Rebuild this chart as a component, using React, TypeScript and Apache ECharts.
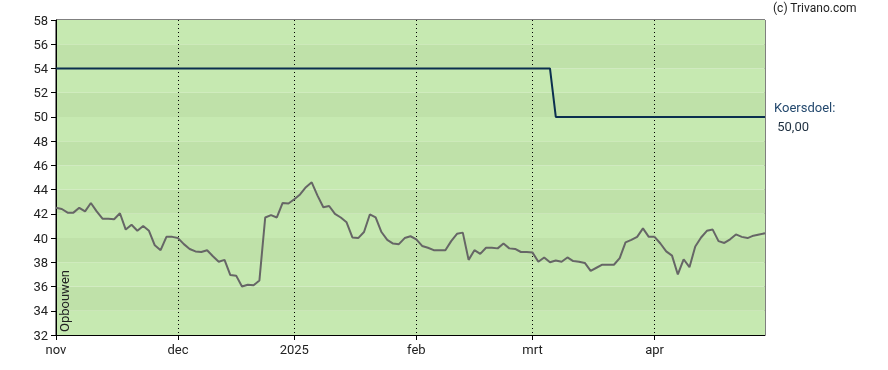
import React, { useEffect, useRef } from "react";
import * as echarts from "echarts";

// Daily closing prices (trading days, Nov 2024 – Apr 2025)
const prices: number[] = [
  42.5, 42.4, 42.1, 42.1, 42.5, 42.2, 42.9, 42.2, 41.6, 41.6,
  41.55, 42.05, 40.7, 41.1, 40.6, 41.0, 40.6, 39.4, 39.0, 40.1,
  40.1, 40.0, 39.5, 39.1, 38.9, 38.85, 39.0, 38.5, 38.05, 38.2,
  36.95, 36.9, 36.0, 36.15, 36.1, 36.5, 41.7, 41.9, 41.7, 42.9,
  42.85, 43.2, 43.6, 44.2, 44.6, 43.5, 42.55, 42.65, 42.0, 41.7,
  41.3, 40.05, 40.0, 40.5, 41.95, 41.7, 40.5, 39.85, 39.55, 39.5,
  40.0, 40.15, 39.9, 39.35, 39.2, 39.0, 39.0, 39.0, 39.75, 40.35,
  40.45, 38.2, 39.0, 38.7, 39.2, 39.2, 39.15, 39.55, 39.15, 39.1,
  38.85, 38.85, 38.8, 38.05, 38.4, 38.0, 38.15, 38.05, 38.4, 38.1,
  38.05, 37.95, 37.3, 37.55, 37.8, 37.8, 37.8, 38.35, 39.65, 39.85,
  40.1, 40.8, 40.1, 40.1, 39.55, 38.9, 38.55, 37.0, 38.25, 37.6,
  39.3, 40.05, 40.6, 40.7, 39.75, 39.6, 39.9, 40.3, 40.1, 40.0,
  40.2, 40.3, 40.4,
];

// Price target (koersdoel) levels, each valid from a trading-day index
const targetLevels: { from: number; value: number }[] = [
  { from: 0, value: 54 },
  { from: 86, value: 50 },
];

// Month start positions (trading-day index) and their labels
const monthIndexes: number[] = [0, 21, 41, 62, 82, 103];
const monthLabels: string[] = ["nov", "dec", "2025", "feb", "mrt", "apr"];

const categories: string[] = prices.map((_, i) => String(i));
const targets: number[] = prices.map((_, i) => {
  let v = targetLevels[0].value;
  for (const t of targetLevels) if (i >= t.from) v = t.value;
  return v;
});

const isMonth = (i: number) => monthIndexes.includes(i);
const FONT = "Roboto, Arial, sans-serif";

export default function App() {
  const ref = useRef<HTMLDivElement>(null);

  useEffect(() => {
    if (!ref.current) return;
    const chart = echarts.init(ref.current, null, { renderer: "svg" });
    const lastTarget = targets[targets.length - 1].toFixed(2).replace(".", ",");
    chart.setOption({
      animation: false,
      grid: {
        left: 56,
        right: 123,
        top: 20,
        bottom: 35,
        show: true,
        borderColor: "#000",
        borderWidth: 1,
        backgroundColor: "transparent",
      },
      xAxis: {
        type: "category",
        data: categories,
        boundaryGap: false,
        axisLine: { show: true, lineStyle: { color: "#000", width: 1 } },
        axisTick: {
          show: true,
          interval: (i: number) => isMonth(i),
          length: 5,
          lineStyle: { color: "#000" },
        },
        axisLabel: {
          interval: (i: number) => isMonth(i),
          formatter: (_v: string, i: number) => {
            const k = monthIndexes.indexOf(i);
            return k >= 0 ? monthLabels[k] : "";
          },
          color: "#222",
          fontSize: 13,
          fontFamily: FONT,
          margin: 8,
        },
        splitLine: {
          show: true,
          interval: (i: number) => isMonth(i) && i > 0,
          lineStyle: { color: "#000", type: [1, 3], width: 1 },
        },
      },
      yAxis: {
        type: "value",
        min: 32,
        max: 58,
        interval: 2,
        axisLine: { show: true, lineStyle: { color: "#000", width: 1 } },
        axisTick: { show: true, length: 5, lineStyle: { color: "#000" } },
        axisLabel: {
          color: "#222",
          fontSize: 13,
          fontFamily: FONT,
          margin: 8,
        },
        splitLine: { show: false },
        splitArea: {
          show: true,
          areaStyle: { color: ["#c6e9b1", "#bfe1a9"] },
        },
      },
      series: [
        {
          type: "line",
          data: prices,
          symbol: "none",
          lineStyle: { color: "#666666", width: 2 },
          itemStyle: { color: "#666666" },
          z: 3,
        },
        {
          type: "line",
          data: targets,
          symbol: "none",
          lineStyle: { color: "#0b2f4f", width: 2 },
          itemStyle: { color: "#0b2f4f" },
          z: 4,
          endLabel: {
            show: true,
            distance: 9,
            formatter: () => `{a|Koersdoel:}\n{b| ${lastTarget}}`,
            rich: {
              a: { color: "#24496e", fontSize: 13, fontFamily: FONT, lineHeight: 19 },
              b: { color: "#1e2f40", fontSize: 13, fontFamily: FONT, lineHeight: 19 },
            },
          },
        },
      ],
      graphic: [
        {
          type: "text",
          left: 773,
          top: 2,
          style: {
            text: "(c) Trivano.com",
            fill: "#222",
            font: `12px ${FONT}`,
          },
        },
        {
          type: "text",
          x: 64,
          y: 332,
          rotation: Math.PI / 2,
          style: {
            text: "Opbouwen",
            fill: "#222",
            font: `13px ${FONT}`,
            textAlign: "left",
            textVerticalAlign: "middle",
          },
          z: 10,
        },
      ],
    });
    return () => chart.dispose();
  }, []);

  return (
    <div
      ref={ref}
      style={{ position: "fixed", left: 0, top: 0, width: 888, height: 370 }}
    />
  );
}
